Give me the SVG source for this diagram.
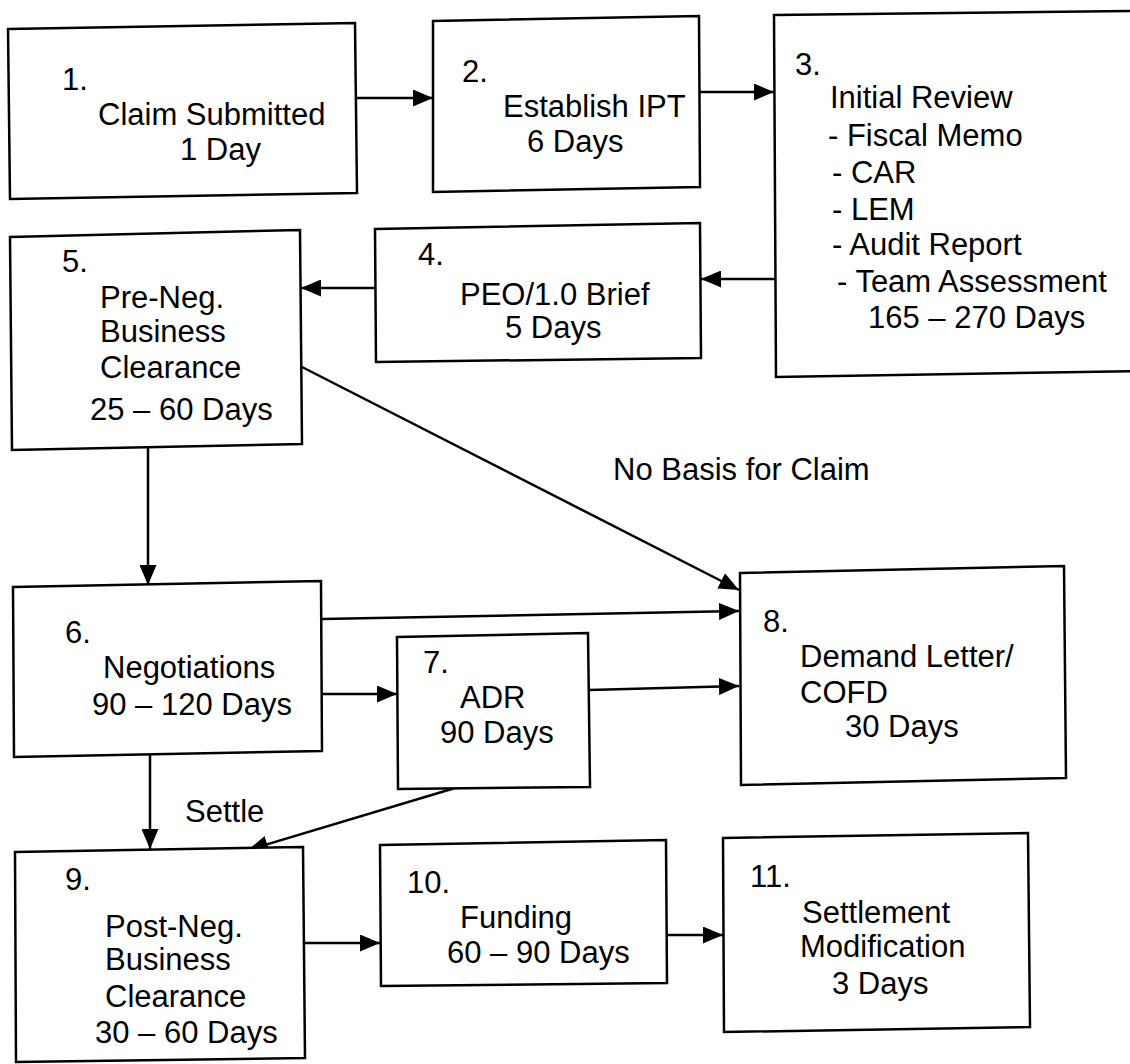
<svg xmlns="http://www.w3.org/2000/svg" width="1130" height="1064" viewBox="0 0 1130 1064">
<defs>
<style>
.box{fill:#fff;stroke:#000;stroke-width:2.5}
.t{font-family:"Liberation Sans",Arial,sans-serif;font-size:31px;fill:#000}
.c{fill:none;stroke:#000;stroke-width:2.5}
</style>
<marker id="ah" viewBox="0 0 20 17" refX="20" refY="8.5" markerWidth="20" markerHeight="17" markerUnits="userSpaceOnUse" orient="auto">
<path d="M0,0 L20,8.5 L0,17 z" fill="#000"/>
</marker>
</defs>
<rect width="1130" height="1064" fill="#fff"/>

<g id="connectors">
<line class="c" x1="357" y1="98" x2="433" y2="98" marker-end="url(#ah)"/>
<line class="c" x1="700" y1="92" x2="774" y2="92" marker-end="url(#ah)"/>
<line class="c" x1="775" y1="279" x2="701" y2="279" marker-end="url(#ah)"/>
<line class="c" x1="376" y1="288" x2="301" y2="288" marker-end="url(#ah)"/>
<line class="c" x1="302" y1="367" x2="739" y2="590" marker-end="url(#ah)"/>
<line class="c" x1="148" y1="448" x2="148" y2="585" marker-end="url(#ah)"/>
<line class="c" x1="322" y1="619" x2="739" y2="611" marker-end="url(#ah)"/>
<line class="c" x1="322" y1="694" x2="397" y2="694" marker-end="url(#ah)"/>
<line class="c" x1="589" y1="690" x2="739" y2="686" marker-end="url(#ah)"/>
<line class="c" x1="150" y1="755" x2="150" y2="849" marker-end="url(#ah)"/>
<line class="c" x1="455" y1="788" x2="248" y2="850" marker-end="url(#ah)"/>
<line class="c" x1="304" y1="943" x2="380" y2="943" marker-end="url(#ah)"/>
<line class="c" x1="667" y1="935" x2="723" y2="935" marker-end="url(#ah)"/>
<text class="t" x="613" y="480">No Basis for Claim</text>
<text class="t" x="185" y="822">Settle</text>
</g>

<g id="node1">
<polygon class="box" points="8,29 355,23 357,193 10,199"/>
<text class="t" x="62" y="90">1.</text>
<text class="t" x="98" y="125">Claim Submitted</text>
<text class="t" x="180" y="160">1 Day</text>
</g>

<g id="node2">
<polygon class="box" points="433,21 699,16 700,187 433,192"/>
<text class="t" x="462" y="82">2.</text>
<text class="t" x="503" y="117">Establish IPT</text>
<text class="t" x="527" y="152">6 Days</text>
</g>

<g id="node3">
<polygon class="box" points="774,15 1140,11 1140,371 776,377"/>
<text class="t" x="795" y="75">3.</text>
<text class="t" x="830" y="108">Initial Review</text>
<text class="t" x="828" y="146">- Fiscal Memo</text>
<text class="t" x="832" y="183">- CAR</text>
<text class="t" x="832" y="220">- LEM</text>
<text class="t" x="832" y="255">- Audit Report</text>
<text class="t" x="837" y="292">- Team Assessment</text>
<text class="t" x="868" y="328">165 – 270 Days</text>
</g>

<g id="node4">
<polygon class="box" points="375,229 700,223 701,358 376,362"/>
<text class="t" x="418" y="265">4.</text>
<text class="t" x="460" y="305">PEO/1.0 Brief</text>
<text class="t" x="505" y="338">5 Days</text>
</g>

<g id="node5">
<polygon class="box" points="10,237 300,230 302,444 12,450"/>
<text class="t" x="62" y="272">5.</text>
<text class="t" x="100" y="308">Pre-Neg.</text>
<text class="t" x="100" y="342">Business</text>
<text class="t" x="100" y="378">Clearance</text>
<text class="t" x="90" y="420">25 – 60 Days</text>
</g>

<g id="node6">
<polygon class="box" points="13,587 321,581 322,751 14,757"/>
<text class="t" x="65" y="643">6.</text>
<text class="t" x="103" y="678">Negotiations</text>
<text class="t" x="92" y="715">90 – 120 Days</text>
</g>

<g id="node7">
<polygon class="box" points="397,637 588,633 590,787 398,789"/>
<text class="t" x="423" y="673">7.</text>
<text class="t" x="460" y="708">ADR</text>
<text class="t" x="440" y="743">90 Days</text>
</g>

<g id="node8">
<polygon class="box" points="740,573 1064,566 1066,778 741,785"/>
<text class="t" x="763" y="632">8.</text>
<text class="t" x="800" y="667">Demand Letter/</text>
<text class="t" x="800" y="703">COFD</text>
<text class="t" x="845" y="737">30 Days</text>
</g>

<g id="node9">
<polygon class="box" points="15,852 303,847 305,1058 16,1062"/>
<text class="t" x="65" y="890">9.</text>
<text class="t" x="105" y="937">Post-Neg.</text>
<text class="t" x="105" y="970">Business</text>
<text class="t" x="105" y="1007">Clearance</text>
<text class="t" x="95" y="1043">30 – 60 Days</text>
</g>

<g id="node10">
<polygon class="box" points="380,845 666,840 667,983 381,986"/>
<text class="t" x="407" y="893">10.</text>
<text class="t" x="460" y="928">Funding</text>
<text class="t" x="447" y="963">60 – 90 Days</text>
</g>

<g id="node11">
<polygon class="box" points="723,838 1028,833 1030,1027 724,1032"/>
<text class="t" x="750" y="887">11.</text>
<text class="t" x="802" y="923">Settlement</text>
<text class="t" x="800" y="957">Modification</text>
<text class="t" x="832" y="994">3 Days</text>
</g>
</svg>
